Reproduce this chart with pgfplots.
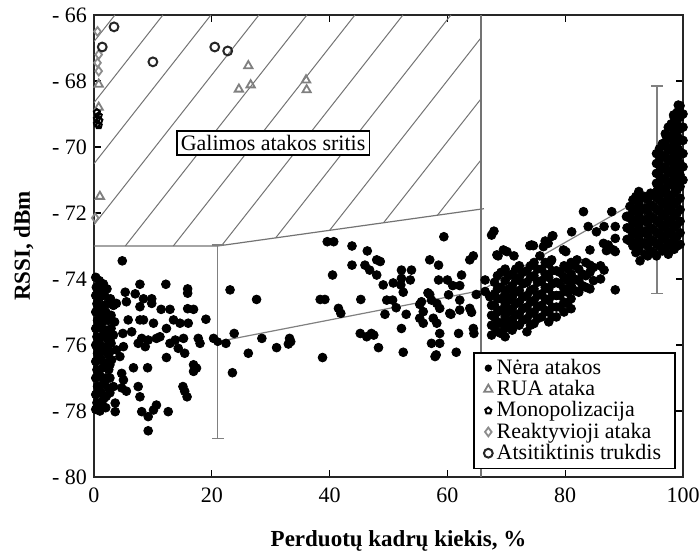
\documentclass[border=0pt]{standalone}
\usepackage{pgfplots}
\pgfplotsset{compat=1.18}
\usepackage{fontspec}
\setmainfont{Liberation Serif}

\begin{document}
\begin{tikzpicture}
\begin{axis}[
  scale only axis,
  width=294.5pt, height=231pt,
  xmin=0, xmax=100, ymin=-80, ymax=-66,
  xtick={0,20,40,60,80,100},
  xticklabels={0,20,40,60,80,100},
  ytick={-80,-78,-76,-74,-72,-70,-68,-66},
  yticklabels={- 80,- 78,- 76,- 74,- 72,- 70,- 68,- 66},
  tick align=inside,
  major tick length=3.5pt,
  tick style={black, line width=0.6pt},
  ticklabel style={font=\fontsize{11}{13}\selectfont},
  xticklabel style={yshift=-2pt},
  axis line style={black!85, line width=0.8pt},
  xlabel={\textbf{Perduotų kadrų kiekis, \%}},
  ylabel={\textbf{RSSI, dBm}},
  label style={font=\fontsize{11.5}{13}\selectfont},
  xlabel style={at={(axis description cs:0.517,-0.1515)}, anchor=base},
  ylabel style={at={(axis description cs:-0.1087,0.5)}, anchor=base},
  legend style={at={(0.988,0.017)}, anchor=south east, draw=black, line width=0.8pt,
    fill=white, font=\fontsize{11}{12}\selectfont, inner xsep=5pt, inner ysep=1pt,
    row sep=-2.5pt, cells={anchor=west}},
  legend image code/.code={\draw[mark repeat=2,mark phase=2] plot coordinates {(0cm,0cm) (0.15cm,0cm) (0.3cm,0cm)};},
  unbounded coords=jump,
]
\coordinate (bl) at (rel axis cs:0,0);
\coordinate (tr) at (rel axis cs:1,1);

% hatched region: hatch lines and boundary
\addplot[black!55, line width=0.5pt, forget plot] coordinates {
(0,-66.806) (3.55,-66) (nan,nan)
(0,-68.656) (11.7,-66) (nan,nan)
(0,-70.506) (19.85,-66) (nan,nan)
(0,-72.356) (28.0,-66) (nan,nan)
(5.313,-73) (36.15,-66) (nan,nan)
(13.463,-73) (44.3,-66) (nan,nan)
(21.69,-72.983) (52.45,-66) (nan,nan)
(30.85,-72.753) (60.6,-66) (nan,nan)
(40.01,-72.524) (65.7,-66.692) (nan,nan)
(49.17,-72.294) (65.7,-68.542) (nan,nan)
(58.33,-72.064) (65.7,-70.392)
};
\addplot[black!55, line width=0.6pt, forget plot] coordinates {(0,-73) (21,-73) (66.2,-71.87)};
\addplot[black!55, line width=0.6pt, forget plot] coordinates {(65.7,-66) (65.7,-80)};

% error bars and mean line
\addplot[only marks, mark=none, forget plot,
  error bars/.cd, y dir=both, y explicit,
  error bar style={draw=black!50, line width=0.6pt},
  error mark options={rotate=90, mark size=3pt, draw=black!50, line width=0.6pt}]
  coordinates {(0.4,-76.05) +- (0,2.0) (21,-75.9) +- (0,2.93) (95.6,-71.3) +- (0,3.15)};
\addplot[black!50, line width=0.6pt, no marks, forget plot] coordinates {(21,-75.9) (65.7,-74.35) (95.6,-71.3)};

% Nera atakos
\addplot[only marks, mark=*, mark size=2.2pt, black,
  legend image code/.code={\fill[black] (0.15cm,0cm) circle (1.4pt);}] table {
x y
0.3 -73.95
0.9 -74.05
1.6 -74.15
0.4 -74.25
1.2 -74.35
2.2 -74.3
0.3 -74.5
1.0 -74.55
1.8 -74.5
2.8 -74.6
0.5 -74.75
1.4 -74.8
2.3 -74.75
3.3 -74.8
0.3 -75.0
1.1 -75.05
2.0 -75.0
2.9 -75.1
0.6 -75.25
1.5 -75.3
2.4 -75.25
3.5 -75.3
0.3 -75.5
1.2 -75.5
2.0 -75.55
2.9 -75.5
0.5 -75.75
1.4 -75.75
2.3 -75.8
3.3 -75.7
0.3 -76.0
1.1 -76.0
2.0 -76.05
2.9 -75.95
0.6 -76.25
1.5 -76.2
2.4 -76.3
0.3 -76.5
1.2 -76.45
2.1 -76.55
0.5 -76.75
1.4 -76.7
2.5 -76.75
0.3 -77.0
1.1 -76.95
2.0 -77.0
0.6 -77.25
1.5 -77.2
2.4 -77.3
0.3 -77.5
1.2 -77.45
2.1 -77.55
0.5 -77.75
1.4 -77.7
0.3 -77.95
1.0 -78.0
2.0 -77.9
0.8 -74.4
0.8 -74.9
0.8 -75.4
0.8 -75.9
0.8 -76.4
0.8 -76.9
0.8 -77.4
0.8 -77.85
1.8 -75.15
1.8 -75.65
1.8 -76.15
1.8 -76.65
1.8 -77.1
1.8 -77.6
2.7 -75.2
2.7 -75.65
2.7 -76.2
2.7 -76.6
2.7 -77.0
2.7 -77.45
4.8 -73.45
7.8 -74.16
12.2 -74.16
15.9 -74.3
15.9 -74.43
23.1 -74.33
5.3 -74.4
7.0 -74.45
8.4 -74.6
9.8 -74.6
3.8 -74.74
5.5 -74.69
7.8 -74.84
9.8 -74.74
11.4 -74.92
12.9 -74.92
15.9 -74.9
16.9 -74.92
5.8 -75.24
7.8 -75.24
8.4 -75.24
10.1 -75.34
12.3 -75.5
13.5 -75.24
14.6 -75.34
16.0 -75.34
19.0 -75.22
4.9 -75.65
6.4 -75.6
8.1 -75.8
9.2 -75.85
10.6 -75.8
7.5 -75.95
8.7 -76.05
11.2 -75.75
12.9 -75.95
13.8 -75.85
15.2 -75.8
14.3 -76.1
15.4 -76.25
17.7 -75.8
18.0 -75.95
20.3 -75.8
22.4 -75.95
23.8 -75.65
12.3 -76.38
6.7 -76.69
9.1 -76.69
16.9 -76.6
17.4 -76.7
16.9 -76.8
23.5 -76.84
7.5 -77.26
5.5 -77.4
7.8 -77.57
15.1 -77.26
15.4 -77.4
15.8 -77.57
3.6 -77.76
3.6 -78.02
8.1 -78.02
9.2 -78.17
10.1 -77.97
10.6 -77.82
12.6 -78.02
9.2 -78.6
4.7 -76.86
5.0 -77.06
2.7 -75.85
3.8 -76.15
5.0 -76.05
4.4 -76.35
3.0 -76.45
3.3 -77.26
4.7 -77.3
39.6 -72.87
40.7 -72.87
43.8 -73.0
46.4 -73.15
48.0 -73.42
43.8 -73.58
46.0 -73.58
46.8 -73.73
48.0 -73.88
40.5 -73.88
27.6 -74.62
38.4 -74.62
39.2 -74.62
45.3 -74.62
41.5 -74.89
41.9 -75.04
28.5 -75.8
31.0 -76.08
33.2 -75.8
33.4 -75.9
33.0 -75.97
26.2 -76.25
38.8 -76.38
45.2 -75.65
46.3 -75.75
47.1 -75.65
47.5 -75.7
48.3 -76.08
59.4 -72.72
67.5 -72.67
67.9 -72.55
74.0 -72.99
74.6 -72.99
76.6 -72.85
77.9 -72.69
69.5 -73.12
68.6 -73.3
71.3 -73.3
75.7 -73.3
77.7 -73.42
57.0 -73.42
58.5 -73.58
63.8 -73.42
64.4 -73.3
52.2 -73.73
53.9 -73.73
49.1 -74.18
52.2 -73.98
52.1 -74.18
52.5 -74.4
58.5 -74.03
60.0 -74.03
60.9 -74.2
62.1 -74.2
62.4 -73.88
66.4 -74.03
57.0 -74.47
57.3 -74.64
58.2 -74.74
58.7 -74.89
50.7 -74.64
51.3 -74.87
55.3 -74.77
55.9 -74.99
62.1 -74.64
64.9 -74.47
63.8 -74.89
64.1 -75.01
49.4 -75.07
53.0 -75.07
55.3 -75.19
55.9 -75.34
57.6 -75.19
58.2 -75.34
60.6 -75.07
52.2 -75.5
64.4 -75.5
64.5 -75.65
61.9 -75.65
58.7 -75.65
57.3 -75.95
58.7 -75.95
52.5 -76.22
61.5 -76.22
58.1 -76.3
67.2 -74.54
66.4 -74.38
48.6 -73.47
50.8 -74.12
53.7 -74.03
56.7 -74.42
55.6 -74.69
49.7 -74.64
60.2 -74.48
60.4 -75.04
62.1 -74.94
57.9 -76.35
67.5 -74.8
67.5 -75.1
67.5 -75.4
67.5 -75.7
68.5 -73.9
68.5 -74.3
68.5 -74.6
68.5 -75.0
68.5 -75.3
68.5 -75.6
69.8 -73.7
69.8 -74.05
69.8 -74.45
69.8 -74.8
69.8 -75.15
69.8 -75.5
69.8 -75.75
71.0 -73.85
71.0 -74.2
71.0 -74.55
71.0 -74.9
71.0 -75.25
71.0 -75.55
72.2 -73.6
72.2 -73.95
72.2 -74.35
72.2 -74.7
72.2 -75.05
72.2 -75.4
73.5 -73.75
73.5 -74.1
73.5 -74.5
73.5 -74.85
73.5 -75.2
73.5 -75.6
74.7 -73.5
74.7 -73.9
74.7 -74.3
74.7 -74.65
74.7 -75.0
74.7 -75.35
76.0 -73.7
76.0 -74.05
76.0 -74.45
76.0 -74.8
76.0 -75.15
77.2 -73.55
77.2 -73.95
77.2 -74.3
77.2 -74.65
77.2 -75.0
77.2 -75.3
78.5 -73.75
78.5 -74.1
78.5 -74.5
78.5 -74.85
78.5 -75.15
79.8 -73.6
79.8 -73.95
79.8 -74.3
79.8 -74.7
79.8 -75.0
81.0 -73.5
81.0 -73.85
81.0 -74.2
81.0 -74.6
81.0 -74.9
82.3 -73.7
82.3 -74.05
82.3 -74.4
83.5 -73.5
83.5 -73.9
83.5 -74.25
84.8 -73.65
84.8 -74.05
86.0 -73.6
86.0 -74.0
68.0 -74.1
68.0 -74.45
68.0 -74.8
68.0 -75.15
68.0 -75.45
69.1 -73.8
69.1 -74.25
69.1 -74.6
69.1 -74.95
69.1 -75.35
69.1 -75.65
70.4 -73.9
70.4 -74.3
70.4 -74.65
70.4 -75.0
70.4 -75.35
71.6 -73.7
71.6 -74.05
71.6 -74.4
71.6 -74.75
71.6 -75.1
71.6 -75.4
72.8 -73.8
72.8 -74.15
72.8 -74.55
72.8 -74.9
72.8 -75.25
74.1 -73.6
74.1 -73.95
74.1 -74.35
74.1 -74.7
74.1 -75.05
74.1 -75.4
75.3 -73.7
75.3 -74.1
75.3 -74.5
75.3 -74.85
75.3 -75.2
76.6 -73.5
76.6 -73.85
76.6 -74.25
76.6 -74.6
76.6 -74.95
77.8 -73.75
77.8 -74.15
77.8 -74.5
77.8 -74.85
77.8 -75.15
79.1 -73.8
79.1 -74.15
79.1 -74.5
79.1 -74.85
80.4 -73.7
80.4 -74.05
80.4 -74.4
80.4 -74.75
81.6 -73.6
81.6 -74.0
81.6 -74.35
82.9 -73.85
82.9 -74.2
84.2 -73.8
84.2 -74.3
83.1 -71.96
87.9 -71.96
90.4 -72.11
81.1 -72.57
83.9 -72.41
85.3 -72.57
86.6 -72.41
88.5 -72.41
77.8 -72.7
77.1 -72.92
87.3 -72.97
87.0 -73.14
88.5 -73.17
88.5 -72.77
80.1 -73.17
77.6 -73.45
92.7 -73.45
84.2 -73.58
86.6 -73.73
88.5 -74.33
68.4 -73.27
70.1 -73.17
74.3 -72.97
76.3 -73.02
79.7 -73.12
82.0 -73.42
84.2 -73.12
86.5 -72.92
88.2 -73.12
92.1 -73.12
90.5 -72.1
90.5 -72.45
90.5 -72.8
91.5 -71.6
91.5 -71.95
91.5 -72.3
91.5 -72.65
91.5 -73.0
92.5 -71.35
92.5 -71.7
92.5 -72.05
92.5 -72.4
92.5 -72.75
92.5 -73.1
93.5 -71.5
93.5 -71.85
93.5 -72.2
93.5 -72.55
93.5 -72.9
93.5 -73.25
94.5 -71.4
94.5 -71.75
94.5 -72.1
94.5 -72.45
94.5 -72.8
94.5 -73.15
95.5 -71.55
95.5 -71.9
95.5 -72.25
95.5 -72.6
95.5 -72.95
95.5 -73.3
96.5 -71.4
96.5 -71.75
96.5 -72.1
96.5 -72.45
96.5 -72.8
96.5 -73.15
97.5 -71.5
97.5 -71.85
97.5 -72.2
97.5 -72.55
97.5 -72.9
97.5 -73.25
98.5 -71.4
98.5 -71.75
98.5 -72.1
98.5 -72.45
98.5 -72.8
98.5 -73.1
99.5 -71.55
99.5 -71.9
99.5 -72.25
99.5 -72.6
99.5 -72.95
91.0 -71.8
91.0 -72.15
91.0 -72.5
91.0 -72.85
92.0 -71.5
92.0 -71.85
92.0 -72.2
92.0 -72.55
92.0 -72.9
92.0 -73.2
93.0 -71.55
93.0 -71.9
93.0 -72.25
93.0 -72.6
93.0 -72.95
94.0 -71.6
94.0 -71.95
94.0 -72.3
94.0 -72.65
94.0 -73.0
94.0 -73.3
95.0 -71.45
95.0 -71.8
95.0 -72.15
95.0 -72.5
95.0 -72.85
95.0 -73.2
96.0 -71.6
96.0 -71.95
96.0 -72.3
96.0 -72.65
96.0 -73.0
97.0 -71.35
97.0 -71.65
97.0 -72.0
97.0 -72.35
97.0 -72.7
97.0 -73.05
98.0 -71.6
98.0 -71.95
98.0 -72.3
98.0 -72.65
98.0 -73.0
99.0 -71.3
99.0 -71.65
99.0 -72.0
99.0 -72.35
99.0 -72.7
99.0 -73.0
95.5 -70.2
95.5 -70.5
95.5 -70.8
95.5 -71.1
96.5 -69.9
96.5 -70.25
96.5 -70.6
96.5 -70.95
96.5 -71.25
97.5 -69.4
97.5 -69.75
97.5 -70.1
97.5 -70.45
97.5 -70.8
97.5 -71.15
98.5 -69.1
98.5 -69.5
98.5 -69.85
98.5 -70.2
98.5 -70.55
98.5 -70.9
98.5 -71.2
99.5 -68.75
99.5 -69.1
99.5 -69.45
99.5 -69.8
99.5 -70.15
99.5 -70.5
99.5 -70.85
99.5 -71.2
99.2 -68.73
98.4 -69.03
97.2 -69.69
96.7 -69.94
96.0 -70.05
96.0 -70.4
96.0 -70.75
96.0 -71.05
97.0 -69.6
97.0 -69.95
97.0 -70.3
97.0 -70.65
97.0 -71.0
97.0 -71.3
98.0 -69.3
98.0 -69.65
98.0 -70.0
98.0 -70.35
98.0 -70.7
98.0 -71.05
99.0 -68.95
99.0 -69.3
99.0 -69.65
99.0 -70.0
99.0 -70.35
99.0 -70.7
99.0 -71.05
100.0 -69.0
100.0 -69.4
100.0 -69.8
100.0 -70.2
100.0 -70.6
100.0 -71.0
};
\addlegendentry{Nėra atakos}

% RUA ataka
\addplot[only marks, mark=triangle, mark size=2.4pt, black!50, mark options={line width=0.9pt}] table {
x y
26.2 -67.54
24.6 -68.25
26.6 -68.12
36.0 -67.97
36.1 -68.27
0.8 -68.1
0.8 -68.8
1.0 -71.5
};
\addlegendentry{RUA ataka}

% Monopolizacija
\addplot[only marks, mark=pentagon, mark size=1.6pt, black, mark options={line width=1pt}] table {
x y
0.5 -68.95
0.8 -69.05
0.5 -69.15
0.9 -69.2
0.5 -69.3
0.8 -69.35
};
\addlegendentry{Monopolizacija}

% Reaktyvioji ataka
\addplot[only marks, mark=diamond, mark size=2.2pt, black!45, mark options={line width=0.9pt}] table {
x y
0.6 -66.5
0.8 -67.2
0.6 -67.45
0.8 -67.7
0.2 -72.15
};
\addlegendentry{Reaktyvioji ataka}

% Atsitiktinis trukdis
\addplot[only marks, mark=o, mark size=2.2pt, black!85, mark options={line width=1pt}] table {
x y
3.4 -66.36
1.4 -66.97
10.0 -67.42
20.5 -66.97
22.7 -67.09
};
\addlegendentry{Atsitiktinis trukdis}

\node[draw=black, line width=0.8pt, fill=white, inner sep=2pt, font=\fontsize{11}{13}\selectfont]
  at (axis cs:30.4,-69.88) {Galimos atakos sritis};
\end{axis}
\pgfresetboundingbox
\path[use as bounding box] ([shift={(-47pt,-39pt)}]bl) rectangle ([shift={(8.5pt,7.5pt)}]tr);
\end{tikzpicture}
\end{document}
